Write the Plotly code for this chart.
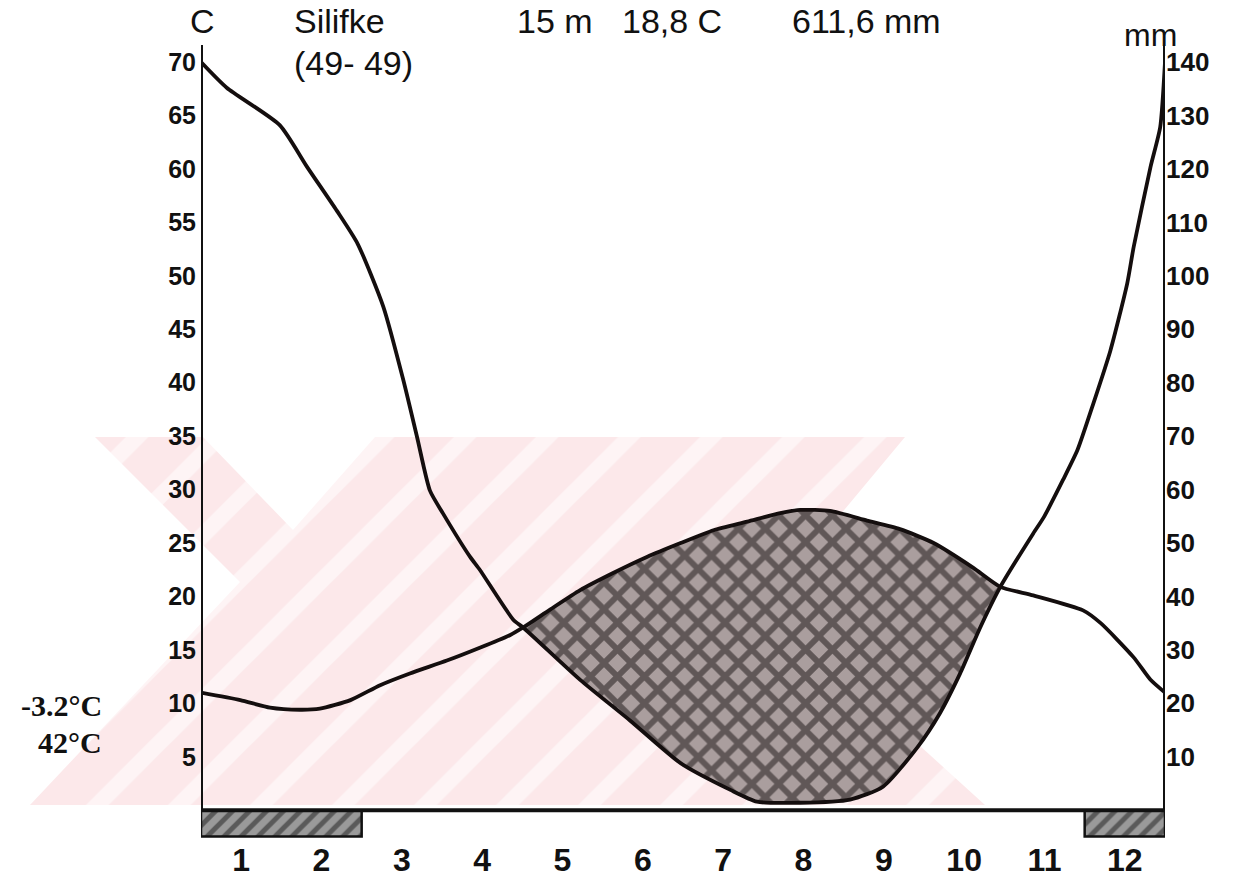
import plotly.graph_objects as go

# ---------------- data ----------------
months = list(range(1, 13))
month_labels = [str(m) for m in months]

# temperature (°C); x in month units (0.5 = left axis, 12.5 = right axis)
temp_x = [0.50, 0.99, 1.36, 1.73, 1.98, 2.36, 2.73, 3.10, 3.56, 3.97, 4.35, 4.51,
          4.85, 5.22, 5.63, 6.05, 6.47, 6.88, 7.30, 7.71, 7.96, 8.33, 8.79, 9.20,
          9.62, 10.11, 10.45, 10.86, 11.48, 11.70, 12.11, 12.32, 12.50]
temp_c = [11.0, 10.3, 9.6, 9.4, 9.5, 10.3, 11.7, 12.8, 14.0, 15.2, 16.4, 17.1,
          18.8, 20.6, 22.2, 23.7, 25.0, 26.2, 27.0, 27.8, 28.1, 28.0, 27.1, 26.3,
          25.0, 22.7, 20.9, 20.1, 18.7, 17.5, 14.3, 12.2, 11.0]

# precipitation (mm)
prec_x = [0.50, 0.82, 1.48, 1.82, 2.19, 2.45, 2.77, 3.02, 3.19, 3.35, 3.51, 3.85,
          3.97, 4.39, 4.51, 5.22, 5.84, 6.47, 7.09, 7.42, 7.96, 8.58, 8.99, 9.42,
          9.70, 9.95, 10.20, 10.45, 10.86, 10.99, 11.23, 11.41, 11.61, 11.82, 12.03,
          12.11, 12.32, 12.44, 12.50]
prec_mm = [140.0, 135.2, 128.2, 120.4, 112.2, 106.0, 94.2, 80.4, 69.8, 59.8, 55.6, 47.4,
           45.0, 35.6, 34.2, 24.4, 16.8, 8.8, 3.8, 1.6, 1.4, 2.0, 4.4, 11.8,
           18.2, 25.6, 34.2, 41.8, 51.8, 54.8, 61.8, 67.4, 76.2, 86.0, 98.6,
           105.4, 120.4, 127.8, 140.0]

frost_months = [1, 2, 12]

temp_ticks = list(range(5, 75, 5))
prec_ticks = list(range(10, 150, 10))

header_station = "Silifke"
header_period = "(49- 49)"
header_alt = "15 m"
header_temp = "18,8 C"
header_prec = "611,6 mm"
side_min = "-3.2°C"
side_max = "42°C"

# ---------------- geometry (page pixels) ----------------
W, H = 1245, 883
L, R, T, B = 201, 1165, 45, 838
Y0, Y1 = -2.6, 71.6          # temperature axis range
FROST_DEPTH = 2.45

# faint pink background watermark of the scanned page (decoration, page pixels)
wm_x = [95, 203, 293, 375, 905, 765, 985, 30, 240, 95]
wm_y = [437, 437, 530, 437, 437, 605, 805, 805, 582, 437]


def paper(xp, yp):
    return xp / W, 1 - yp / H


# dry period polygon (temperature above precipitation/2), bounded by the two crossings
cross = [x for x in temp_x if x in prec_x and 1 < x < 12 and
         abs(temp_c[temp_x.index(x)] * 2 - prec_mm[prec_x.index(x)]) < 0.5]
xa, xb = cross[0], cross[-1]
poly_x = [x for x in temp_x if xa <= x <= xb]
poly_y = [t for x, t in zip(temp_x, temp_c) if xa <= x <= xb]
inner = [(x, p / 2) for x, p in zip(prec_x, prec_mm) if xa < x < xb][::-1]
poly_x += [p[0] for p in inner] + [poly_x[0]]
poly_y += [p[1] for p in inner] + [poly_y[0]]

# frost runs
runs = []
for m in sorted(frost_months):
    if runs and m == runs[-1][-1] + 1:
        runs[-1].append(m)
    else:
        runs.append([m])
bar_x = [(r[0] + r[-1]) / 2 for r in runs]
bar_w = [len(r) for r in runs]

fig = go.Figure()

# watermark on a full-page pixel subplot (drawn first, below the chart)
fig.add_trace(go.Scatter(
    x=wm_x, y=wm_y, xaxis="x", yaxis="y", mode="lines", fill="toself",
    line=dict(width=0, color="rgba(0,0,0,0)"), fillcolor="#fce9eb",
    fillpattern=dict(shape="/", fgcolor="#ffffff", bgcolor="#fce8ea", size=58, solidity=0.28),
    hoverinfo="skip", showlegend=False))

fig.add_trace(go.Scatter(
    x=poly_x, y=poly_y, xaxis="x2", yaxis="y2", mode="lines", fill="toself",
    line=dict(width=0, color="rgba(0,0,0,0)"),
    fillcolor="#a89c9c",
    fillpattern=dict(shape="x", fgcolor="#161010", bgcolor="#aa9e9e", size=19, solidity=0.52),
    hoverinfo="skip", showlegend=False))

fig.add_trace(go.Bar(
    x=bar_x, y=[-FROST_DEPTH] * len(bar_x), width=bar_w, base=0, xaxis="x2", yaxis="y2",
    marker=dict(color="#1a1a1a",
                pattern=dict(shape="/", fgcolor="#1a1a1a", bgcolor="#9a9a9a", size=12, solidity=0.42),
                line=dict(color="#111111", width=2.5)),
    hoverinfo="skip", showlegend=False))

fig.add_trace(go.Scatter(
    x=temp_x, y=temp_c, xaxis="x2", yaxis="y2", mode="lines",
    line=dict(color="#140e0e", width=3.8, shape="spline", smoothing=0.6),
    hoverinfo="skip", showlegend=False))

fig.add_trace(go.Scatter(
    x=prec_x, y=prec_mm, xaxis="x2", yaxis="y3", mode="lines",
    line=dict(color="#140e0e", width=3.8, shape="spline", smoothing=0.6),
    hoverinfo="skip", showlegend=False))

# axis frame lines
line_style = dict(color="#111111", width=4)
fig.add_shape(type="line", xref="x2", yref="y2", x0=0.5, x1=0.5, y0=0, y1=Y1, line=line_style)
fig.add_shape(type="line", xref="x2", yref="y2", x0=12.5, x1=12.5, y0=0, y1=Y1, line=line_style)
fig.add_shape(type="line", xref="x2", yref="y2", x0=0.5, x1=12.5, y0=0, y1=0, line=line_style)

sans = "Liberation Sans, Arial, sans-serif"
serif = "Liberation Serif, Times New Roman, serif"

anns = [
    (header_station, 292, 21, "left"),
    (header_period, 292, 63, "left"),
    (header_alt, 515, 21, "left"),
    (header_temp, 620, 21, "left"),
    (header_prec, 790, 21, "left"),
]
for text, xp, yp, anc in anns:
    ax_, ay_ = paper(xp, yp)
    fig.add_annotation(text=text, x=ax_, y=ay_, xref="paper", yref="paper", showarrow=False,
                       xanchor=anc, yanchor="middle", font=dict(family=sans, size=34, color="#111"))
fig.add_annotation(text="C", x=paper(202, 21)[0], y=paper(202, 21)[1], xref="paper", yref="paper",
                   showarrow=False, xanchor="center", yanchor="middle",
                   font=dict(family=sans, size=34, color="#111"))
fig.add_annotation(text="mm", x=paper(1150, 35)[0], y=paper(1150, 35)[1], xref="paper", yref="paper",
                   showarrow=False, xanchor="center", yanchor="middle",
                   font=dict(family=sans, size=32, color="#111"))
for text, yp in [(side_min, 705), (side_max, 742)]:
    ax_, ay_ = paper(104, yp)
    fig.add_annotation(text=text, x=ax_, y=ay_, xref="paper", yref="paper", showarrow=False,
                       xanchor="right", yanchor="middle",
                       font=dict(family=serif, size=30, color="#111", weight="bold"))

xdom = [L / W, R / W]
ydom = [1 - B / H, 1 - T / H]

fig.update_layout(
    width=W, height=H,
    margin=dict(l=0, r=0, t=0, b=0),
    paper_bgcolor="white", plot_bgcolor="rgba(0,0,0,0)",
    barmode="overlay",
    xaxis=dict(domain=[0, 1], range=[0, W], visible=False, fixedrange=True),
    yaxis=dict(domain=[0, 1], range=[H, 0], visible=False, fixedrange=True),
    xaxis2=dict(domain=xdom, anchor="y2", range=[0.5, 12.5], tickvals=months, ticktext=month_labels,
                showgrid=False, zeroline=False, showline=False, ticks="",
                tickfont=dict(family=sans, size=32, color="#111", weight="bold")),
    yaxis2=dict(domain=ydom, anchor="x2", range=[Y0, Y1], tickvals=temp_ticks, showgrid=False,
                zeroline=False, showline=False, ticks="", ticklabelstandoff=4,
                tickfont=dict(family=sans, size=25, color="#111", weight="bold")),
    yaxis3=dict(range=[2 * Y0, 2 * Y1], tickvals=prec_ticks, overlaying="y2", side="right",
                anchor="x2", showgrid=False, zeroline=False, showline=False, ticks="",
                tickfont=dict(family=sans, size=26, color="#111", weight="bold")),
)

fig.write_html("out.html", config={"displayModeBar": False, "staticPlot": True},
               post_script="document.body.style.margin='0px';")
